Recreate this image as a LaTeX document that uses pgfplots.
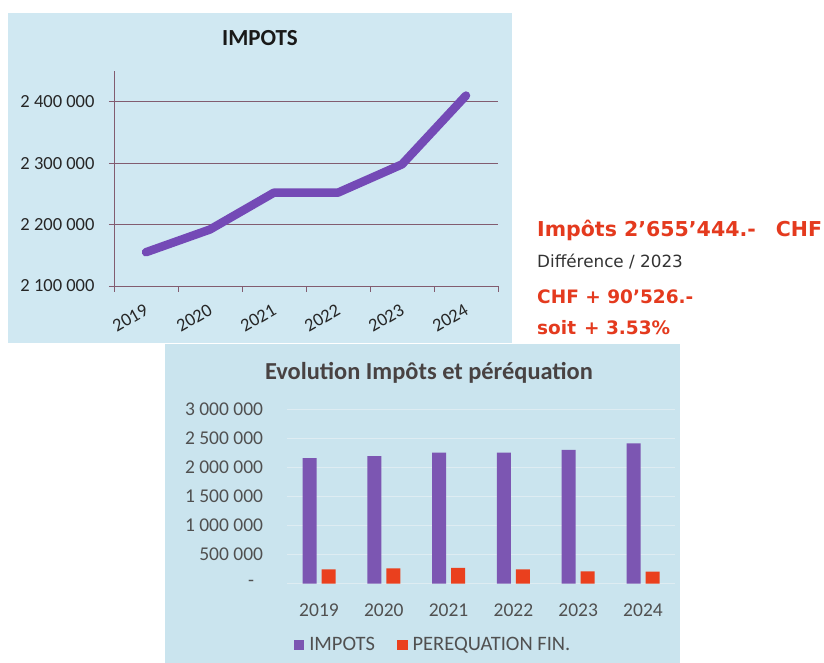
\documentclass[border=0pt]{standalone}
\usepackage{pgfplots}
\pgfplotsset{compat=1.18}
\usepackage{fontspec}
\setmainfont{Carlito}
\newfontfamily\dejavu{DejaVu Sans}
\definecolor{bgtop}{RGB}{208,232,242}
\definecolor{bgbot}{RGB}{202,228,238}
\definecolor{linepurple}{RGB}{116,74,182}
\definecolor{barpurple}{RGB}{124,86,178}
\definecolor{barred}{RGB}{234,64,30}
\definecolor{gridtop}{RGB}{130,92,112}
\definecolor{annred}{RGB}{228,58,30}
\definecolor{txtgrey}{RGB}{80,80,80}
\definecolor{titlegrey}{RGB}{72,66,66}
\definecolor{gridbot}{RGB}{222,236,242}
\begin{document}
\begin{tikzpicture}[x=1pt,y=1pt]
\path[use as bounding box] (0,0) rectangle (824,663);
\fill[white] (0,0) rectangle (824,663);
\fill[bgtop] (8,320) rectangle (512,650);
\fill[bgbot] (165,0) rectangle (680,319);
% top chart
\begin{axis}[at={(114pt,377pt)}, anchor=south west, scale only axis,
  width=384pt, height=215pt,
  xmin=-0.5, xmax=5.5, ymin=2100000, ymax=2450000, clip=false,
  scaled y ticks=false,
  axis lines=left, axis line style={-, draw=gridtop, line width=0.8pt},
  xtick={0,...,5}, xticklabels={2019,2020,2021,2022,2023,2024},
  minor xtick={-0.5,0.5,...,5.5},
  major x tick style={draw=none},
  minor x tick style={draw=gridtop, line width=0.8pt},
  major y tick style={draw=gridtop, line width=0.8pt},
  tick align=outside, major tick length=5pt, minor tick length=6pt,
  ytick={2100000,2200000,2300000,2400000},
  yticklabels={2 100 000,2 200 000,2 300 000,2 400 000},
  ymajorgrids, major grid style={gridtop, line width=0.8pt},
  yticklabel style={font=\fontsize{18.5}{21}\selectfont, text=black!85, xshift=-11pt},
  xticklabel style={font=\fontsize{18.5}{21}\selectfont, text=black!85, rotate=30, anchor=north east, xshift=-5pt, yshift=-6pt},
]
\addplot[linepurple, line width=8.5pt, line cap=round, line join=round]
  coordinates {(0,2155000)(1,2192000)(2,2252000)(3,2252000)(4,2298000)(5,2410000)};
\end{axis}
\node[font=\bfseries\fontsize{23}{26}\selectfont, text=black!90] at (260,625) {IMPOTS};
% bottom chart
\begin{axis}[at={(286.6pt,79.3pt)}, anchor=south west, scale only axis,
  width=388.8pt, height=174.7pt,
  ybar=5pt, bar width=14pt,
  xmin=-0.5, xmax=5.5, ymin=0, ymax=3000000,
  scaled y ticks=false,
  axis line style={draw=none}, tick style={draw=none},
  xtick={0,...,5}, xticklabels={2019,2020,2021,2022,2023,2024},
  ytick={0,500000,1000000,1500000,2000000,2500000,3000000},
  yticklabels={{-\hspace*{9pt}},500 000,1 000 000,1 500 000,2 000 000,2 500 000,3 000 000},
  ymajorgrids, major grid style={gridbot, line width=0.8pt},
  yticklabel style={font=\fontsize{19.5}{22}\selectfont, text=txtgrey, xshift=-20pt},
  xticklabel style={font=\fontsize{19.5}{22}\selectfont, text=txtgrey, yshift=-12pt},
  legend columns=2,
  legend style={at={(0.3765,-0.351)}, anchor=center, draw=none, fill=none,
    font=\fontsize{20.5}{23}\selectfont, text=txtgrey,
    /tikz/every odd column/.append style={column sep=3pt},
    /tikz/every even column/.append style={column sep=20pt}},
  legend image code/.code={\fill[#1] (0pt,-5.3pt) rectangle (10.7pt,5.3pt);},
]
\addplot[fill=barpurple, draw=none] coordinates {(0,2155000)(1,2192000)(2,2252000)(3,2252000)(4,2298000)(5,2410000)};
\addplot[fill=barred, draw=none] coordinates {(0,245000)(1,265000)(2,270000)(3,248000)(4,212000)(5,208000)};
\legend{IMPOTS,PEREQUATION FIN.}
\end{axis}
\node[font=\bfseries\fontsize{24.4}{28}\selectfont, text=titlegrey] at (429,290.5) {Evolution Impôts et péréquation};
% annotations
\node[anchor=base west, inner sep=0, font=\dejavu\bfseries\fontsize{20.5}{24}\selectfont, text=annred] at (537,426) {Impôts 2’655’444.-\hspace{20pt}CHF};
\node[anchor=base west, inner sep=0, font=\dejavu\fontsize{16.8}{20}\selectfont, text=black!80] at (537,395) {Différence / 2023};
\node[anchor=base west, inner sep=0, font=\dejavu\bfseries\fontsize{18.5}{22}\selectfont, text=annred] at (537,359) {CHF + 90’526.-};
\node[anchor=base west, inner sep=0, font=\dejavu\bfseries\fontsize{18.5}{22}\selectfont, text=annred] at (537,328) {soit\hspace{8pt}+ 3.53\%};
\end{tikzpicture}
\end{document}
